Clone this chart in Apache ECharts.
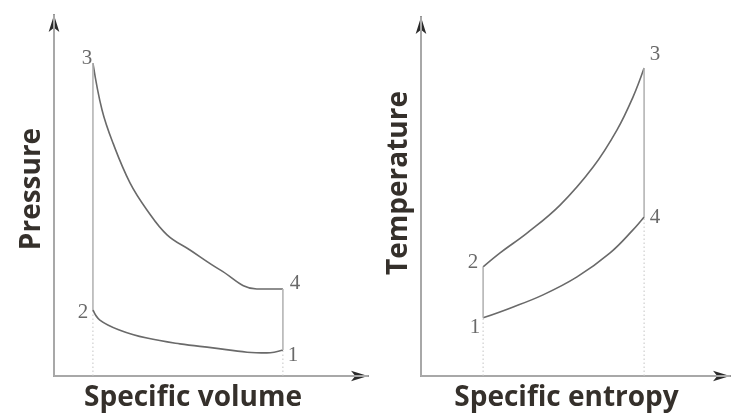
<!DOCTYPE html>
<html><head><meta charset="utf-8">
<script src="https://cdn.jsdelivr.net/npm/echarts@6/dist/echarts.min.js"></script>
<style>html,body{margin:0;padding:0;background:#fff}#c{width:732px;height:415px}</style>
</head><body><div id="c"></div>
<script>
// ---- P-v diagram (arbitrary units) ----
const pvCompressionV = [1.24, 1.46, 2.10, 2.96, 4.01, 5.06, 6.15, 6.78, 7.29];
const pvCompressionP = [1.83, 1.55, 1.27, 1.05, 0.89, 0.78, 0.66, 0.64, 0.72];
const pvExpansionV = [1.24, 1.53, 1.88, 2.42, 2.96, 3.60, 4.33, 5.29, 6.46, 7.29];
const pvExpansionP = [8.67, 7.37, 6.45, 5.35, 4.60, 3.91, 3.49, 2.94, 2.41, 2.41];
const pvStateNames = ['1', '2', '3', '4'];
const pvStateV = [7.29, 1.24, 1.24, 7.29];
const pvStateP = [0.72, 1.83, 8.67, 2.41];

// ---- T-s diagram ----
const tsHeatAddS = [2.01, 2.56, 3.43, 4.50, 5.57, 6.34, 6.86, 7.22];
const tsHeatAddT = [3.04, 3.43, 3.98, 4.76, 5.82, 6.85, 7.77, 8.58];
const tsHeatRejS = [2.01, 2.88, 3.95, 5.05, 6.12, 6.86, 7.22];
const tsHeatRejT = [1.62, 1.89, 2.26, 2.76, 3.43, 4.07, 4.43];
const tsStateNames = ['1', '2', '3', '4'];
const tsStateS = [2.01, 2.01, 7.22, 7.22];
const tsStateT = [1.62, 3.04, 8.58, 4.43];

const axisTitles = ['Specific volume', 'Pressure', 'Specific entropy', 'Temperature'];

const zip = (a, b) => a.map((v, i) => [v, b[i]]);
const curveColor = '#6a6a6a';
const vertColor = '#b4b4b4';
const axisColor = '#a8a8a8';
const arrowColor = '#2a2a2a';
const titleStyle = { fontFamily: 'Open Sans', fontWeight: 'bold', fontSize: 28, color: '#35302b' };

function baseAx(type, idx, withArrow, z) {
  return {
    type: 'value', gridIndex: idx, min: 0, max: 10, z: z,
    position: type === 'x' ? 'bottom' : 'left', offset: 0,
    axisLine: { show: true, onZero: false,
      symbol: withArrow ? ['none', 'arrow'] : ['none', 'none'], symbolSize: [8, 17],
      lineStyle: { color: withArrow ? arrowColor : axisColor, width: 2 } },
    axisTick: { show: false }, axisLabel: { show: false }, splitLine: { show: false }
  };
}
function titled(ax, name, gap, pad) {
  ax.name = name; ax.nameLocation = 'middle'; ax.nameGap = gap;
  ax.nameTextStyle = Object.assign({ padding: pad }, titleStyle);
  return ax;
}
function lineS(idx, data, color, smooth) {
  return { type: 'line', xAxisIndex: idx * 2, yAxisIndex: idx * 2, data: data, smooth: smooth, showSymbol: false, symbol: 'none',
    lineStyle: { color: color, width: 1.6 }, silent: true, z: 3 };
}
function dotS(idx, x, y) {
  return { type: 'line', xAxisIndex: idx * 2, yAxisIndex: idx * 2, data: [[x, 0], [x, y]], showSymbol: false, symbol: 'none',
    lineStyle: { color: '#c4c4c4', width: 1, type: [1.5, 2.5] }, silent: true, z: 2 };
}
function labelS(idx, names, xs, ys, offsets) {
  return { type: 'scatter', xAxisIndex: idx * 2, yAxisIndex: idx * 2, symbolSize: 0, silent: true, z: 5,
    data: names.map((n, i) => ({ name: n, value: [xs[i], ys[i]],
      label: { show: true, position: 'inside', offset: offsets[i], formatter: n,
        fontFamily: 'Liberation Serif', fontSize: 21, color: '#444444' } })) };
}

const chart = echarts.init(document.getElementById('c'), null, { renderer: 'canvas' });
chart.setOption({
  animation: false,
  backgroundColor: '#ffffff',
  grid: [
    { left: 54, top: 15, width: 314, height: 361, outerBoundsMode: 'none', containLabel: false },
    { left: 421, top: 17, width: 309, height: 359, outerBoundsMode: 'none', containLabel: false }
  ],
  xAxis: [
    titled(baseAx('x', 0, false, 2), axisTitles[0], 8, [0, 36, 0, 0]),
    baseAx('x', 0, true, 1),
    titled(baseAx('x', 1, false, 2), axisTitles[2], 8, [0, 18, 0, 0]),
    baseAx('x', 1, true, 1)
  ],
  yAxis: [
    titled(baseAx('y', 0, false, 2), axisTitles[1], 8, [0, 0, 0, 13]),
    baseAx('y', 0, true, 1),
    titled(baseAx('y', 1, false, 2), axisTitles[3], 8, [0, 0, 0, 27]),
    baseAx('y', 1, true, 1)
  ],
  series: [
    lineS(0, zip(pvCompressionV, pvCompressionP), curveColor, 0.4),
    lineS(0, zip(pvExpansionV, pvExpansionP), curveColor, 0.4),
    lineS(0, [[pvStateV[1], pvStateP[1]], [pvStateV[2], pvStateP[2]]], vertColor, false),
    lineS(0, [[pvStateV[3], pvStateP[3]], [pvStateV[0], pvStateP[0]]], vertColor, false),
    dotS(0, pvStateV[1], pvStateP[1]),
    dotS(0, pvStateV[0], pvStateP[0]),
    labelS(0, pvStateNames, pvStateV, pvStateP, [[10, 5], [-10, 3], [-6, -5], [12, -6]]),
    lineS(1, zip(tsHeatAddS, tsHeatAddT), curveColor, 0.4),
    lineS(1, zip(tsHeatRejS, tsHeatRejT), curveColor, 0.4),
    lineS(1, [[tsStateS[0], tsStateT[0]], [tsStateS[1], tsStateT[1]]], vertColor, false),
    lineS(1, [[tsStateS[2], tsStateT[2]], [tsStateS[3], tsStateT[3]]], vertColor, false),
    dotS(1, tsStateS[0], tsStateT[0]),
    dotS(1, tsStateS[3], tsStateT[3]),
    labelS(1, tsStateNames, tsStateS, tsStateT, [[-8, 10], [-10, -4], [11, -13], [11, 1]])
  ]
});
</script></body></html>
